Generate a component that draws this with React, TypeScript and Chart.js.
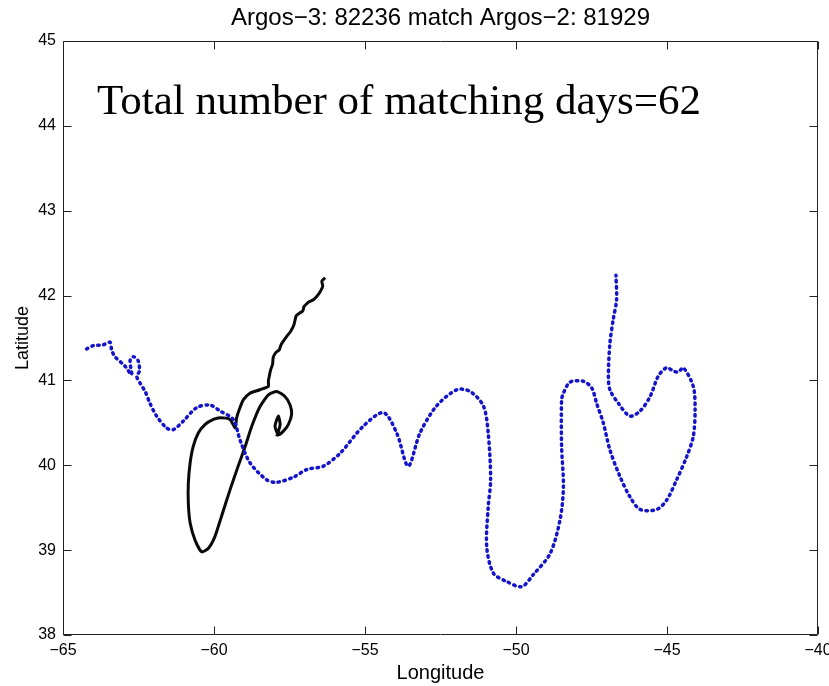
import React, { useEffect, useRef } from 'react';
import { Chart, registerables } from 'chart.js';

Chart.register(...registerables);

const TITLE = 'Argos\u22123: 82236 match Argos\u22122: 81929';
const NOTE = 'Total number of matching days=62';
const X_LABEL = 'Longitude';
const Y_LABEL = 'Latitude';

const xTicks = [-65, -60, -55, -50, -45, -40];
const yTicks = [38, 39, 40, 41, 42, 43, 44, 45];

// blue track
const blueLon = [
  -64.22, -64.0, -63.67, -63.44, -63.39, -63.28, -62.95, -62.73, -62.78, -62.67,
  -62.51, -62.47, -62.56, -62.45, -62.28, -62.12, -61.9, -61.57, -61.35, -61.02,
  -60.57, -60.13, -59.8, -59.36, -59.14, -58.81, -58.26, -57.92, -57.37, -56.93,
  -56.38, -55.83, -55.06, -54.39, -53.95, -53.57, -53.18, -52.63, -51.96, -51.52,
  -51.08, -50.92, -50.84, -50.92, -50.97, -50.75, -50.31, -49.81, -49.43, -48.87,
  -48.54, -48.43, -48.49, -48.49,
  -48.43, -48.21, -47.77, -47.49, -47.33, -47.11, -46.89, -46.56, -46.23, -45.89,
  -45.34, -45.01, -44.68, -44.35, -44.13, -44.07, -44.13, -44.46, -44.62, -44.79,
  -45.01, -45.29, -45.56, -45.89, -46.23, -46.61, -46.89, -46.94, -46.89, -46.78,
  -46.67, -46.69,
];
const blueLat = [
  41.37, 41.41, 41.42, 41.45, 41.36, 41.28, 41.17, 41.07, 41.23, 41.28,
  41.23, 41.11, 41.05, 40.97, 40.87, 40.73, 40.58, 40.44, 40.42, 40.52,
  40.68, 40.71, 40.64, 40.54, 40.3, 40.03, 39.83, 39.8, 39.86, 39.95,
  39.99, 40.14, 40.46, 40.62, 40.38, 39.99, 40.38, 40.7, 40.89, 40.87,
  40.7, 40.38, 39.83, 39.51, 39.04, 38.73, 38.63, 38.57, 38.71, 38.96,
  39.36, 39.75, 40.22, 40.77,
  40.85, 40.98, 40.99, 40.91, 40.73, 40.5, 40.18, 39.87, 39.63, 39.48,
  39.48, 39.59, 39.83, 40.1, 40.34, 40.66, 40.93, 41.15, 41.1, 41.11,
  41.15, 41.05, 40.81, 40.64, 40.58, 40.73, 40.89, 41.05, 41.44, 41.72,
  41.95, 42.24,
];

// black track
const blackLon = [
  -56.32, -56.43, -56.4, -56.51, -56.6, -56.71, -56.84, -56.91, -57.02, -57.06,
  -57.18, -57.28, -57.35, -57.46, -57.59, -57.71, -57.78, -57.84, -57.95, -58.04,
  -58.06, -58.12, -58.17, -58.2,
  -58.2, -58.48, -58.81, -59.03, -59.16, -59.25, -59.3, -59.47, -59.8, -60.02,
  -60.3, -60.52, -60.69, -60.79, -60.85, -60.85, -60.79, -60.63, -60.41, -60.19,
  -59.97, -59.75, -59.47, -59.2, -58.97, -58.75, -58.48, -58.2, -57.92, -57.65,
  -57.48, -57.43, -57.54, -57.71, -57.87, -57.98, -57.87, -57.81, -57.92,
];
const blackLat = [
  42.21, 42.17, 42.11, 42.03, 41.99, 41.95, 41.93, 41.91, 41.87, 41.82,
  41.79, 41.76, 41.66, 41.58, 41.52, 41.46, 41.42, 41.36, 41.33, 41.27,
  41.19, 41.13, 41.05, 40.99,
  40.93, 40.89, 40.85, 40.77, 40.66, 40.56, 40.44, 40.54, 40.56, 40.54,
  40.48, 40.38, 40.22, 40.03, 39.79, 39.55, 39.32, 39.12, 38.98, 39.02,
  39.16, 39.4, 39.71, 39.99, 40.22, 40.46, 40.69, 40.83, 40.87, 40.81,
  40.71, 40.6, 40.48, 40.4, 40.36, 40.46, 40.58, 40.48, 40.34,
];

const fmtTick = (v: number) => (v < 0 ? '\u2212' + Math.abs(v) : String(v));

const decorPlugin = {
  id: 'decor',
  afterDraw(chart: any) {
    const { ctx, chartArea: a, scales } = chart;
    ctx.save();
    ctx.strokeStyle = '#222';
    ctx.lineWidth = 1;
    const L = Math.round(a.left) + 0.5;
    const R = Math.round(a.right) - 0.5;
    const T = Math.round(a.top) + 0.5;
    const B = Math.round(a.bottom) - 0.5;
    ctx.beginPath();
    ctx.moveTo(L, T);
    ctx.lineTo(R, T);
    ctx.lineTo(R, B);
    ctx.lineTo(L, B);
    ctx.closePath();
    ctx.stroke();
    const tl = 8;
    ctx.beginPath();
    xTicks.forEach((v) => {
      const p = Math.round(scales.x.getPixelForValue(v)) + 0.5;
      ctx.moveTo(p, B);
      ctx.lineTo(p, B - tl);
      ctx.moveTo(p, T);
      ctx.lineTo(p, T + tl);
    });
    yTicks.forEach((v) => {
      const p = Math.round(scales.y.getPixelForValue(v)) + 0.5;
      ctx.moveTo(L, p);
      ctx.lineTo(L + tl, p);
      ctx.moveTo(R, p);
      ctx.lineTo(R - tl, p);
    });
    ctx.stroke();

    ctx.fillStyle = '#000';
    const cx = (a.left + a.right) / 2;
    ctx.textAlign = 'center';
    ctx.textBaseline = 'alphabetic';
    ctx.font = '24px "Liberation Sans", Arial, sans-serif';
    ctx.fillText(TITLE, cx, 25);
    ctx.font = '20px "Liberation Sans", Arial, sans-serif';
    ctx.fillText(X_LABEL, cx, 679);

    ctx.save();
    ctx.translate(28, (a.top + a.bottom) / 2);
    ctx.rotate(-Math.PI / 2);
    ctx.font = '18px "Liberation Sans", Arial, sans-serif';
    ctx.fillText(Y_LABEL, 0, 0);
    ctx.restore();

    ctx.textAlign = 'left';
    ctx.font = '43px "Liberation Serif", "Times New Roman", serif';
    ctx.fillText(NOTE, 97, 114);
    ctx.restore();
  },
};

export default function App() {
  const ref = useRef<HTMLCanvasElement | null>(null);
  useEffect(() => {
    if (!ref.current) return;
    const tickFont = { family: '"Liberation Sans", Arial, sans-serif', size: 16 };
    const chart = new Chart(ref.current, {
      type: 'scatter',
      data: {
        datasets: [
          {
            label: 'black',
            data: blackLon.map((x, i) => ({ x, y: blackLat[i] })),
            showLine: true,
            borderColor: '#0a0a0a',
            borderWidth: 3,
            pointRadius: 0,
            tension: 0.2,
            borderJoinStyle: 'round',
            order: 2,
          },
          {
            label: 'blue',
            data: blueLon.map((x, i) => ({ x, y: blueLat[i] })),
            showLine: true,
            borderColor: '#1414c8',
            borderWidth: 3.5,
            borderDash: [1.5, 4.5],
            borderCapStyle: 'round',
            pointRadius: 0,
            tension: 0.3,
            order: 1,
          },
        ],
      },
      options: {
        responsive: false,
        animation: false,
        devicePixelRatio: 1,
        layout: { padding: { top: 41, right: 11, left: 0, bottom: 0 } },
        plugins: {
          legend: { display: false },
          tooltip: { enabled: false },
          title: { display: false },
        },
        scales: {
          x: {
            type: 'linear',
            min: -65,
            max: -40,
            afterBuildTicks: (s: any) => {
              s.ticks = xTicks.map((v) => ({ value: v }));
            },
            ticks: {
              callback: (v: any) => fmtTick(Number(v)),
              font: tickFont,
              color: '#000',
              padding: 6,
              maxRotation: 0,
              autoSkip: false,
            },
            grid: { display: false, drawTicks: false },
            border: { display: false },
            afterFit: (s: any) => {
              s.height = 51;
              s.paddingLeft = 0;
              s.paddingRight = 0;
            },
          },
          y: {
            type: 'linear',
            min: 38,
            max: 45,
            afterBuildTicks: (s: any) => {
              s.ticks = yTicks.map((v) => ({ value: v }));
            },
            ticks: {
              callback: (v: any) => fmtTick(Number(v)),
              font: tickFont,
              color: '#000',
              padding: 7,
              autoSkip: false,
            },
            grid: { display: false, drawTicks: false },
            border: { display: false },
            afterFit: (s: any) => {
              s.width = 63;
              s.paddingTop = 0;
              s.paddingBottom = 0;
            },
          },
        },
      },
      plugins: [decorPlugin],
    } as any);
    return () => chart.destroy();
  }, []);
  return (
    <div style={{ position: 'absolute', left: 0, top: 0, width: 829, height: 686, background: '#fff' }}>
      <canvas ref={ref} width={829} height={686} style={{ display: 'block' }} />
    </div>
  );
}
